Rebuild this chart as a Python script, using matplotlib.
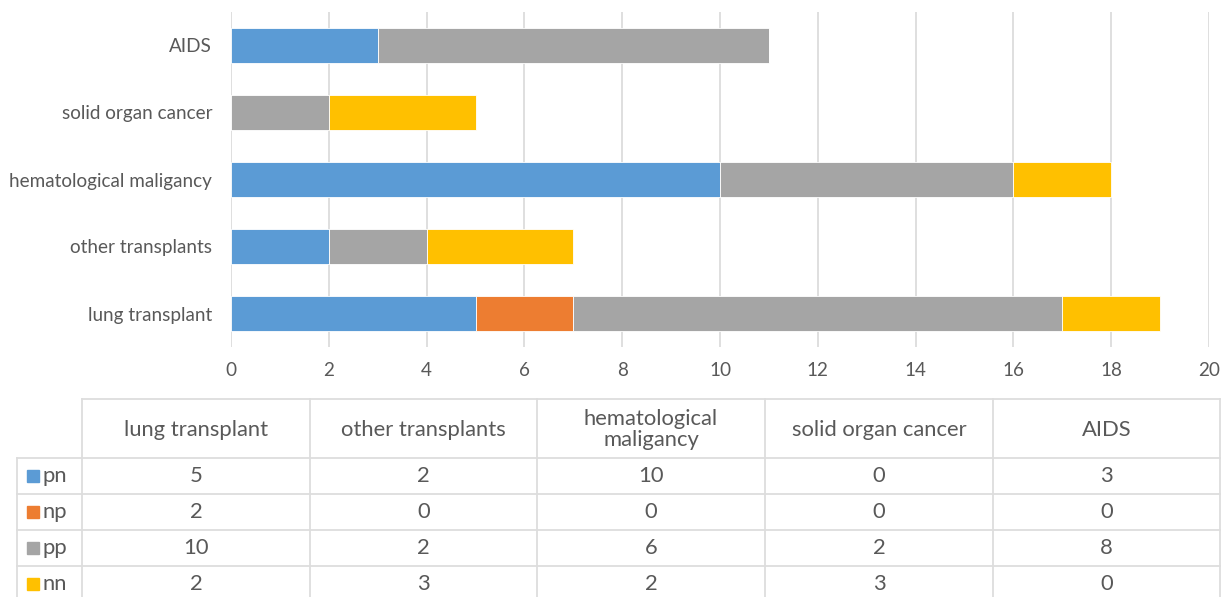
import matplotlib
matplotlib.use("Agg")
import matplotlib.pyplot as plt
import numpy as np

categories = ["lung transplant", "other transplants", "hematological maligancy",
              "solid organ cancer", "AIDS"]
table_headers = ["lung transplant", "other transplants", "hematological\nmaligancy",
                 "solid organ cancer", "AIDS"]
series_names = ["pn", "np", "pp", "nn"]
pn = [5, 2, 10, 0, 3]
np_ = [2, 0, 0, 0, 0]
pp = [10, 2, 6, 2, 8]
nn = [2, 3, 2, 3, 0]
series_values = [pn, np_, pp, nn]
colors = ["#5B9BD5", "#ED7D31", "#A5A5A5", "#FFC000"]
xticks = list(range(0, 21, 2))

W, H = 1229, 597
plt.rcParams['font.family'] = ['Lato', 'DejaVu Sans']
fig = plt.figure(figsize=(W / 100, H / 100), dpi=100)
fig.patch.set_facecolor("white")

txt_color = "#595959"
grid_color = "#D9D9D9"

# main bar axes
ax = fig.add_axes([231 / W, (H - 347) / H, (1209 - 231) / W, (347 - 12) / H])
y = np.arange(len(categories))
left = np.zeros(len(categories))
for name, vals, c in zip(series_names, series_values, colors):
    ax.barh(y, vals, left=left, height=0.52, color=c, edgecolor="white",
            linewidth=0.6, zorder=3)
    left += np.array(vals)
ax.set_xlim(0, 20)
ax.set_ylim(-0.5, len(categories) - 0.5)
ax.set_xticks(xticks)
ax.set_yticks(y)
ax.set_yticklabels(categories)
ax.tick_params(axis="both", length=0, colors=txt_color, labelsize=13.6)
ax.tick_params(axis="y", pad=13.5)
ax.tick_params(axis="x", pad=11)
ax.grid(axis="x", color=grid_color, linewidth=1.2, zorder=0)
for s in ax.spines.values():
    s.set_visible(False)

# data table drawn below
tax = fig.add_axes([0, 0, 1, 1])
tax.set_xlim(0, W)
tax.set_ylim(H, 0)
tax.axis("off")
col_edges = [82, 310, 537, 765, 993, 1220]
row_label_left = 17
header_top, header_bot = 399, 458
row_h = 36
row_edges = [header_bot + i * row_h for i in range(len(series_names) + 1)]
lc = "#DDDDDD"
lw = 1.3
tax.plot([col_edges[0], col_edges[-1]], [header_top, header_top], color=lc, lw=lw)
for xe in col_edges:
    tax.plot([xe, xe], [header_top, row_edges[-1]], color=lc, lw=lw)
tax.plot([row_label_left, row_label_left], [header_bot, row_edges[-1]], color=lc, lw=lw)
for ye in row_edges:
    tax.plot([row_label_left, col_edges[-1]], [ye, ye], color=lc, lw=lw)

tfs = 15.8
for j, h in enumerate(table_headers):
    cx = (col_edges[j] + col_edges[j + 1]) / 2
    tax.text(cx, (header_top + header_bot) / 2 + 1, h, ha="center", va="center",
             fontsize=tfs, color=txt_color, linespacing=1.12)
for i, (name, vals, c) in enumerate(zip(series_names, series_values, colors)):
    cy = (row_edges[i] + row_edges[i + 1]) / 2
    tax.add_patch(plt.Rectangle((27, cy - 6), 12, 12, color=c))
    tax.text(43, cy, name, ha="left", va="center", fontsize=tfs, color=txt_color)
    for j, v in enumerate(vals):
        cx = (col_edges[j] + col_edges[j + 1]) / 2
        tax.text(cx, cy, str(v), ha="center", va="center", fontsize=tfs,
                 color=txt_color)

fig.savefig("out.png", dpi=100, facecolor="white")
